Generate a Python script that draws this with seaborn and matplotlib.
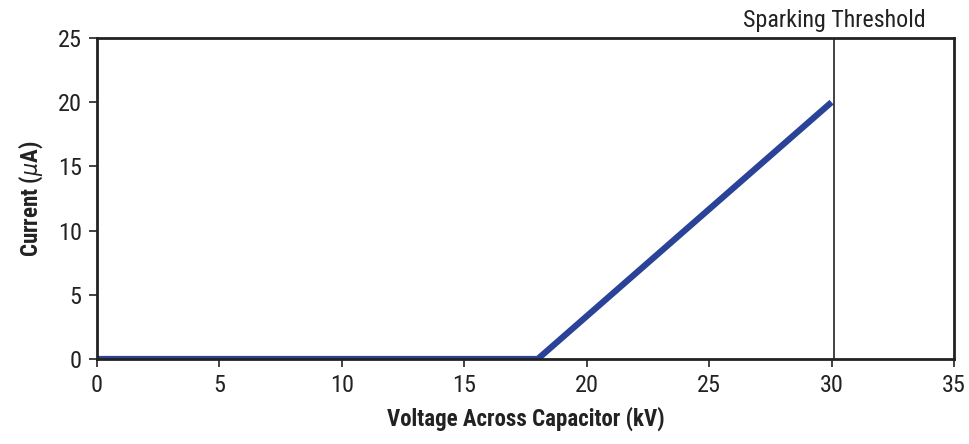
import matplotlib
matplotlib.use("Agg")
import matplotlib.pyplot as plt
import seaborn as sns
import pandas as pd

# Datos
voltaje_kv = [0, 18, 30]
corriente_ua = [0, 0, 20]
umbral_kv = 30.1
xticks = [0, 5, 10, 15, 20, 25, 30, 35]
yticks = [0, 5, 10, 15, 20, 25]

df = pd.DataFrame({"Voltaje": voltaje_kv, "Corriente": corriente_ua})

sns.set_style("ticks")
plt.rcParams["font.family"] = ["Roboto Condensed", "DejaVu Sans"]
plt.rcParams["font.stretch"] = "condensed"
plt.rcParams["mathtext.fontset"] = "dejavusans"

fig = plt.figure(figsize=(9.69, 4.44), dpi=100)
ax = fig.add_axes([0.1001, 0.1914, 0.8844, 0.7230])

sns.lineplot(data=df, x="Voltaje", y="Corriente", ax=ax, color="#2b4299",
             linewidth=4.5, solid_capstyle="butt")
ax.axvline(umbral_kv, color="#222222", linewidth=1.2)
ax.text(umbral_kv, 1.02, "Sparking Threshold", transform=ax.get_xaxis_transform(),
        ha="center", va="bottom", fontsize=17.3, color="#222222", clip_on=False)

ax.set_xlim(0, 35)
ax.set_ylim(0, 25)
ax.set_xticks(xticks)
ax.set_yticks(yticks)
ax.tick_params(direction="out", length=6, width=1.2, labelsize=17.5,
               colors="#222222", pad=5)
for s in ax.spines.values():
    s.set_linewidth(2)
    s.set_color("#222222")

ax.set_xlabel("Voltage Across Capacitor (kV)", fontsize=16.5, fontweight="bold",
              labelpad=7, color="#222222")
ax.set_ylabel(r"Current ($\mu$A)", fontsize=16.5, fontweight="bold",
              labelpad=9, color="#222222")

fig.savefig("out.png", dpi=100)
